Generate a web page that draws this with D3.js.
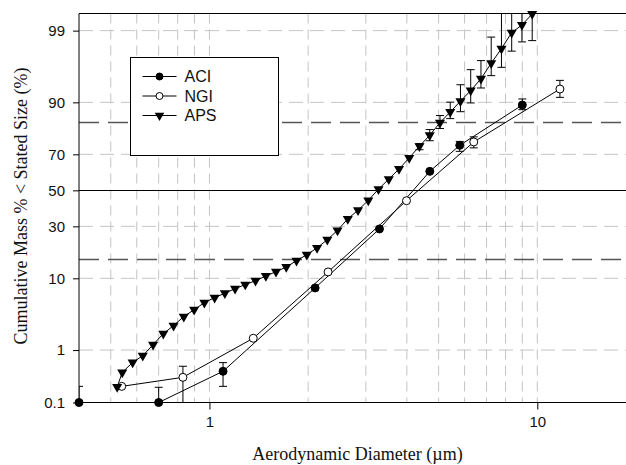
<!DOCTYPE html>
<html>
<head>
<meta charset="utf-8">
<script src="https://cdn.jsdelivr.net/npm/d3@7"></script>
<style>
  body { margin: 0; background: #fff; }
  svg { display: block; }
</style>
</head>
<body>
<div id="chart"></div>
<script>
// ACI (Andersen cascade impactor), 28.3 L/min cut-offs
const aciSize = [0.4, 0.7, 1.1, 2.1, 3.3, 4.7, 5.8, 9.0];
const aciCum = [0.1, 0.1, 0.42, 7.76, 28.7, 60.9, 74.4, 89.3];
const aciErrSize = [0.4, 0.7, 1.1, 5.8, 9.0];
const aciErrLo = [0.05, 0.05, 0.215, 71.5, 88.0];
const aciErrHi = [0.215, 0.206, 0.605, 76.2, 90.84];

// NGI (next generation impactor), 30 L/min cut-offs
const ngiSize = [0.54, 0.83, 1.36, 2.30, 3.99, 6.40, 11.72];
const ngiCum = [0.215, 0.323, 1.56, 11.74, 44.0, 75.96, 93.0];
const ngiErrSize = [0.83, 6.40, 11.72];
const ngiErrLo = [0.1, 73.2, 91.22];
const ngiErrHi = [0.52, 78.2, 94.54];

// APS channels
const apsSize = [0.523, 0.542, 0.583, 0.626, 0.673, 0.723, 0.777, 0.835, 0.898, 0.965,
  1.037, 1.114, 1.197, 1.286, 1.382, 1.486, 1.596, 1.715, 1.843, 1.981,
  2.129, 2.288, 2.458, 2.642, 2.839, 3.051, 3.278, 3.523, 3.786, 4.068,
  4.371, 4.698, 5.048, 5.425, 5.829, 6.264, 6.732, 7.234, 7.774, 8.354,
  8.977, 9.647];
const apsCum = [0.21, 0.40, 0.61, 0.80, 1.23, 1.84, 2.44, 3.3, 4.1, 5.1,
  5.9, 6.7, 7.6, 8.5, 9.4, 10.6, 11.8, 13.2, 15.3, 17.4,
  20.1, 23.6, 28.0, 33.9, 38.6, 44.2, 50.7, 56.5, 62.2, 68.2,
  74.0, 78.9, 83.8, 87.3, 90.3, 92.7, 94.8, 96.8, 98.05, 98.92,
  99.20, 99.49];
const apsErrSize = [4.371, 4.698, 5.048, 5.425, 5.829, 6.264, 6.732, 7.234, 7.774, 8.354, 8.977, 9.647];
const apsErrLo = [72.3, 76.5, 81.6, 85.2, 87.4, 89.85, 93.2, 95.26, 96.34, 97.87, 98.47, 98.54];
const apsErrHi = [75.2, 81.2, 86.2, 90.05, 93.8, 96.06, 97.06, 98.72, 99.9, 99.9, 99.9, 99.9];

// axes / grid
const yTicks = [0.1, 1, 10, 30, 50, 70, 90, 99];
const yTickLabels = ['0.1', '1', '10', '30', '50', '70', '90', '99'];
const yGrid = [1, 10, 30, 70, 90, 99];
const sigmaLines = [15.87, 84.13];
const xTicks = [1, 10];
const xGrid = [0.5, 0.6, 0.7, 0.8, 0.9, 1, 2, 3, 4, 5, 6, 7, 8, 9, 10, 20];

// inverse normal cdf (Acklam)
function qnorm(p) {
  const a = [-3.969683028665376e+01, 2.209460984245205e+02, -2.759285104469687e+02, 1.383577518672690e+02, -3.066479806614716e+01, 2.506628277459239e+00];
  const b = [-5.447609879822406e+01, 1.615858368580409e+02, -1.556989798598866e+02, 6.680131188771972e+01, -1.328068155288572e+01];
  const c = [-7.784894002430293e-03, -3.223964580411365e-01, -2.400758277161838e+00, -2.549732539343734e+00, 4.374664141464968e+00, 2.938163982698783e+00];
  const d = [7.784695709041462e-03, 3.224671290700398e-01, 2.445134137142996e+00, 3.754408661907416e+00];
  const pl = 0.02425;
  let q, r;
  if (p < pl) {
    q = Math.sqrt(-2 * Math.log(p));
    return (((((c[0]*q+c[1])*q+c[2])*q+c[3])*q+c[4])*q+c[5]) / ((((d[0]*q+d[1])*q+d[2])*q+d[3])*q+1);
  }
  if (p > 1 - pl) {
    q = Math.sqrt(-2 * Math.log(1 - p));
    return -(((((c[0]*q+c[1])*q+c[2])*q+c[3])*q+c[4])*q+c[5]) / ((((d[0]*q+d[1])*q+d[2])*q+d[3])*q+1);
  }
  q = p - 0.5; r = q * q;
  return (((((a[0]*r+a[1])*r+a[2])*r+a[3])*r+a[4])*r+a[5])*q / (((((b[0]*r+b[1])*r+b[2])*r+b[3])*r+b[4])*r+1);
}

const width = 626, height = 465;
const margin = { top: 13.5, left: 79, bottom: 62.5 };
const plotBottom = height - margin.bottom;
const plotRight = 636;

let svg = d3.select('#chart').append('svg')
  .attr('width', width).attr('height', height);

let x = d3.scaleLog().domain([0.4, 20]).range([margin.left, plotRight]);
let zScale = d3.scaleLinear()
  .domain([qnorm(0.001), qnorm(0.995)])
  .range([plotBottom, margin.top]);
const y = (p) => zScale(qnorm(p / 100));

svg.append('defs').append('clipPath').attr('id', 'plot-clip')
  .append('rect')
  .attr('x', margin.left).attr('y', margin.top)
  .attr('width', plotRight - margin.left).attr('height', plotBottom - margin.top);

// grid
let grid = svg.append('g');
grid.selectAll('.vgrid').data(xGrid).enter().append('line')
  .attr('x1', d => x(d)).attr('x2', d => x(d))
  .attr('y1', margin.top).attr('y2', plotBottom)
  .attr('stroke', '#c4c4c4').attr('stroke-dasharray', '10,6');
grid.selectAll('.hgrid').data(yGrid).enter().append('line')
  .attr('x1', margin.left).attr('x2', plotRight)
  .attr('y1', d => y(d)).attr('y2', d => y(d))
  .attr('stroke', '#c4c4c4').attr('stroke-dasharray', '14,7');
grid.selectAll('.sigma').data(sigmaLines).enter().append('line')
  .attr('x1', margin.left).attr('x2', plotRight)
  .attr('y1', d => Math.round(y(d)) + 0.5).attr('y2', d => Math.round(y(d)) + 0.5)
  .attr('stroke', '#555').attr('stroke-width', 1.6).attr('stroke-dasharray', '20,9');
grid.append('line')
  .attr('x1', margin.left).attr('x2', plotRight)
  .attr('y1', Math.round(y(50)) + 0.5).attr('y2', Math.round(y(50)) + 0.5)
  .attr('stroke', '#000');

// frame
svg.append('line').attr('x1', margin.left).attr('x2', plotRight)
  .attr('y1', margin.top).attr('y2', margin.top).attr('stroke', '#000');

// axes
let yAxis = d3.axisLeft(zScale)
  .tickValues(yTicks.map(p => qnorm(p / 100)))
  .tickFormat((d, i) => yTickLabels[i])
  .tickSize(6).tickPadding(8);
let gy = svg.append('g').attr('transform', `translate(${margin.left},0)`).call(yAxis);
gy.select('.domain').attr('d', `M0,${margin.top}V${plotBottom}`);

let xAxis = d3.axisBottom(x).tickValues(xTicks).tickFormat(d3.format('d'))
  .tickSize(7).tickPadding(7);
let gx = svg.append('g').attr('transform', `translate(0,${plotBottom})`).call(xAxis);
gx.select('.domain').attr('d', `M${margin.left},0H${plotRight}`);

svg.selectAll('.tick text')
  .attr('font-family', 'Liberation Sans, Arial, sans-serif')
  .attr('font-size', 15).attr('fill', '#111');

// series
let series = [
  { name: 'ACI', size: aciSize, cum: aciCum, eS: aciErrSize, eL: aciErrLo, eH: aciErrHi, marker: 'filled' },
  { name: 'NGI', size: ngiSize, cum: ngiCum, eS: ngiErrSize, eL: ngiErrLo, eH: ngiErrHi, marker: 'open' },
  { name: 'APS', size: apsSize, cum: apsCum, eS: apsErrSize, eL: apsErrLo, eH: apsErrHi, marker: 'tri' },
];

let line = d3.line().x(d => x(d[0])).y(d => y(d[1]));
let plotG = svg.append('g').attr('clip-path', 'url(#plot-clip)');

series.forEach(s => {
  let pts = s.size.map((v, i) => [v, s.cum[i]]);
  plotG.append('path').datum(pts)
    .attr('d', line).attr('fill', 'none').attr('stroke', '#000').attr('stroke-width', 1);

  let errs = s.eS.map((v, i) => ({ x: v, lo: s.eL[i], hi: s.eH[i] }));
  let eg = plotG.selectAll(null).data(errs).enter().append('g');
  eg.append('line')
    .attr('x1', d => x(d.x)).attr('x2', d => x(d.x))
    .attr('y1', d => y(d.lo)).attr('y2', d => y(d.hi))
    .attr('stroke', '#000');
  eg.append('line')
    .attr('x1', d => x(d.x) - 4).attr('x2', d => x(d.x) + 4)
    .attr('y1', d => y(d.hi)).attr('y2', d => y(d.hi))
    .attr('stroke', '#000');
  eg.append('line')
    .attr('x1', d => x(d.x) - 4).attr('x2', d => x(d.x) + 4)
    .attr('y1', d => y(d.lo)).attr('y2', d => y(d.lo))
    .attr('stroke', '#000');
});

function drawMarker(sel, type, big) {
  if (type === 'tri') {
    sel.append('path')
      .attr('d', d3.symbol().type(d3.symbolTriangle).size(big ? 44 : 40))
      .attr('transform', 'rotate(180)')
      .attr('fill', '#000');
  } else {
    sel.append('circle')
      .attr('r', big ? 4 : 3.5)
      .attr('fill', type === 'filled' ? '#000' : '#fff')
      .attr('stroke', '#000');
  }
}

series.forEach(s => {
  let pts = s.size.map((v, i) => [v, s.cum[i]]);
  let mg = svg.selectAll(null).data(pts).enter().append('g')
    .attr('transform', d => `translate(${x(d[0])},${y(d[1])})`);
  drawMarker(mg, s.marker, true);
});

// legend
let legend = svg.append('g').attr('transform', 'translate(130.5,57.5)');
legend.append('rect').attr('width', 148).attr('height', 98)
  .attr('fill', '#fff').attr('stroke', '#000');
series.forEach((s, i) => {
  let row = legend.append('g').attr('transform', `translate(0,${19 + i * 19.5})`);
  row.append('line').attr('x1', 12).attr('x2', 46).attr('stroke', '#000');
  let m = row.append('g').attr('transform', 'translate(29,0)');
  drawMarker(m, s.marker, false);
  row.append('text').attr('x', 54).attr('y', 5.5).text(s.name)
    .attr('font-family', 'Liberation Sans, Arial, sans-serif')
    .attr('font-size', 16).attr('fill', '#111');
});

// titles
svg.append('text')
  .attr('x', (margin.left + plotRight) / 2).attr('y', 460)
  .attr('text-anchor', 'middle')
  .attr('font-family', 'Liberation Serif, Times New Roman, serif')
  .attr('font-size', 18).attr('fill', '#111')
  .text('Aerodynamic Diameter (µm)');

svg.append('text')
  .attr('transform', 'translate(27,206) rotate(-90)')
  .attr('text-anchor', 'middle')
  .attr('font-family', 'Liberation Serif, Times New Roman, serif')
  .attr('font-size', 18).attr('fill', '#111')
  .text('Cumulative Mass % < Stated Size (%)');
</script>
</body>
</html>
